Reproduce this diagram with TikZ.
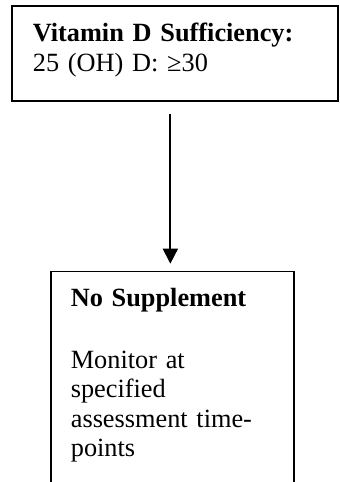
\documentclass[tikz,border=0pt]{standalone}
\usepackage{fontspec}
\setmainfont{Liberation Serif}
\usetikzlibrary{positioning,arrows.meta}

\tikzset{
  box/.style={draw,line width=0.85pt,rectangle,align=left,anchor=north west,
    text height=9pt,font=\fontsize{13.15pt}{14.75pt}\selectfont},
  flow/.style={line width=0.9pt,-{Triangle[width=7.5pt,length=7.5pt]},
    shorten <=6pt,shorten >=3.5pt}
}

\begin{document}
\begin{tikzpicture}[x=0.5pt,y=-0.5pt]
            \useasboundingbox (0,0) rectangle (339,482);
            \clip (0,0) rectangle (339,482);
            \node[box,text width=142pt,inner xsep=10.5pt,inner ysep=9pt,text depth=20.5pt](suff) at (11,5)
                {\textbf{Vitamin D Sufficiency:}\\25 (OH) D: ≥30};
            \node[box,text width=101.5pt,inner xsep=10pt,inner ysep=8.5pt,text depth=110pt](nosupp)[below =84.5pt of suff,xshift=-1.25pt]
                {\textbf{No Supplement}\\[16pt]Monitor at\\specified\\assessment time-\\points};
            \draw[flow] ([xshift=-1pt]nosupp.north |- suff.south) -- ([xshift=-1pt]nosupp.north);
\end{tikzpicture}
\end{document}
